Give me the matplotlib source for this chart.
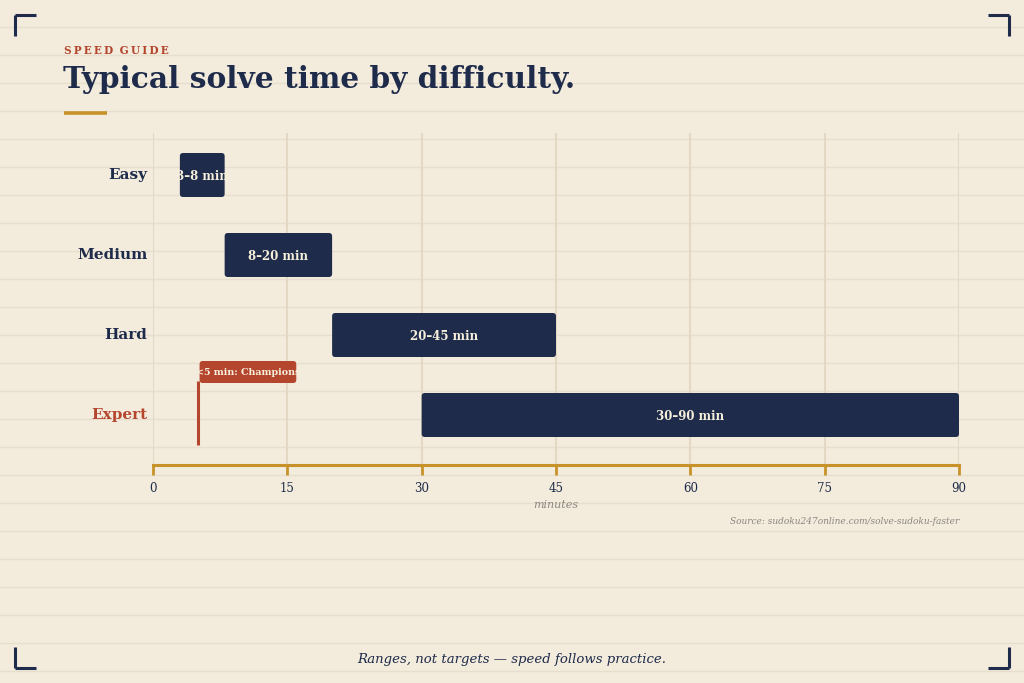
import matplotlib
matplotlib.use("Agg")
import matplotlib.pyplot as plt
from matplotlib.patches import FancyBboxPatch

categories = ["Easy", "Medium", "Hard", "Expert"]
range_start = [3, 8, 20, 30]
range_end = [8, 20, 45, 90]
bar_labels = ["3–8 min", "8–20 min", "20–45 min", "30–90 min"]
xticks = [0, 15, 30, 45, 60, 75, 90]
champion_time = 5
champion_label = "<5 min: Champions"

BG = "#f3ecdd"
RULE = "#e7dfcd"
NAVY = "#1e2b4a"
RED = "#b5462e"
GOLD = "#c8922a"
GRID = "#e2d8c3"
CREAM = "#f6efdc"
GRAY = "#8a8680"
SERIF = ["DejaVu Serif"]

W, H = 1024, 683
fig = plt.figure(figsize=(W / 100, H / 100), dpi=100, facecolor=BG)

def fx(px):
    return px / W

def fy(py):
    return 1 - py / H

# background ruled lines
bg = fig.add_axes([0, 0, 1, 1], zorder=-10)
bg.set_xlim(0, W); bg.set_ylim(H, 0); bg.axis("off")
for y in range(27, H, 28):
    bg.axhline(y, color=RULE, lw=1.0)
# corner brackets
L = 21
for (cx, cy, dx, dy) in [(15, 15, 1, 1), (1009, 15, -1, 1), (15, 668, 1, -1), (1009, 668, -1, -1)]:
    bg.plot([cx, cx + dx * L], [cy, cy], color=NAVY, lw=2.2, solid_capstyle="butt")
    bg.plot([cx, cx], [cy, cy + dy * L], color=NAVY, lw=2.2, solid_capstyle="butt")
# gold underline
bg.plot([64, 107], [113, 113], color=GOLD, lw=2.6, solid_capstyle="butt")

kicker = "\u2009".join("SPEED") + "\u2009\u2009\u2009" + "\u2009".join("GUIDE")
fig.text(fx(64), fy(50), kicker, color=RED, fontsize=7.6, fontweight="bold",
         family=SERIF, ha="left", va="center")
fig.text(fx(63), fy(80), "Typical solve time by difficulty.", color=NAVY, fontsize=21.3,
         fontweight="bold", family=SERIF, ha="left", va="center")
fig.text(0.5, fy(659), "Ranges, not targets — speed follows practice.", color=NAVY,
         fontsize=9.5, style="italic", family=SERIF, ha="center", va="center")

# main axes
ax = fig.add_axes([fx(153), fy(465), fx(959 - 153), (465 - 133) / H])
ax.set_facecolor("none")
ax.set_xlim(0, 90)
ax.set_ylim(3.625, -0.525)
for s in ["top", "right", "left"]:
    ax.spines[s].set_visible(False)
ax.spines["bottom"].set_color(GOLD)
ax.spines["bottom"].set_linewidth(2.2)
ax.set_xticks(xticks)
ax.set_xticklabels([str(t) for t in xticks], family=SERIF, fontsize=8.5, color=NAVY)
ax.tick_params(axis="x", length=7, width=2, color=GOLD, pad=5)
ax.set_yticks([])
for t in xticks:
    ax.axvline(t, color=GRID, lw=1.5, zorder=0)
ax.set_xlabel("minutes", family=SERIF, style="italic", fontsize=8, color=GRAY, labelpad=4)

px_x = (959 - 153) / 90.0
px_y = 80.0
r = 3.2 / px_x
asp = (3.2 / px_y) / r
bh = 0.55
for i, (s, e, lab) in enumerate(zip(range_start, range_end, bar_labels)):
    p = FancyBboxPatch((s, i - bh / 2), e - s, bh,
                       boxstyle=f"round,pad=0,rounding_size={r}", mutation_aspect=asp,
                       fc=NAVY, ec="none", zorder=3)
    ax.add_patch(p)
    t = ax.text((s + e) / 2, i + 0.02, lab, color=CREAM, fontsize=8.5, fontweight="bold",
                family=SERIF, ha="center", va="center", zorder=4)
    t.set_clip_path(p)
    ax.text(-0.6, i, categories[i], ha="right", va="center",
            fontsize=11, fontweight="bold", family=SERIF,
            color=RED if categories[i] == "Expert" else NAVY)

# champion marker
ax.plot([champion_time, champion_time], [2.575, 3.375], color=RED, lw=2.2, zorder=3,
        solid_capstyle="butt")
bx0, bx1 = 5.2, 16.0
by0, by1 = 2.325, 2.6
cp = FancyBboxPatch((bx0, by0), bx1 - bx0, by1 - by0,
                    boxstyle=f"round,pad=0,rounding_size={r}", mutation_aspect=asp,
                    fc=RED, ec="none", zorder=3)
ax.add_patch(cp)
ct = ax.text(10.6, (by0 + by1) / 2 + 0.01, champion_label, color=CREAM, fontsize=6.8,
             fontweight="bold", family=SERIF, ha="center", va="center", zorder=4)
ct.set_clip_path(cp)

fig.text(fx(959), fy(521), "Source: sudoku247online.com/solve-sudoku-faster", color=GRAY,
         fontsize=6.5, style="italic", family=SERIF, ha="right", va="center")

fig.savefig("out.png", dpi=100, facecolor=BG)
